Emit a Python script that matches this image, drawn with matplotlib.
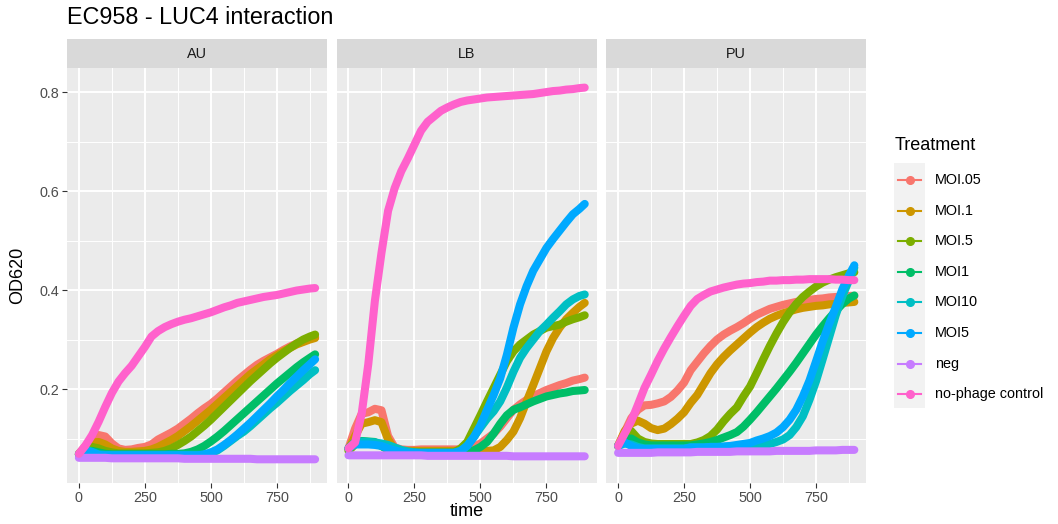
import matplotlib
matplotlib.use('Agg')
import matplotlib.pyplot as plt
from matplotlib.lines import Line2D
from matplotlib.patches import Rectangle

plt.rcParams['font.family'] = ['Liberation Sans', 'DejaVu Sans']

# ---------------- data ----------------
time = [0, 25, 50, 75, 100, 125, 150, 175, 200, 225, 250, 275, 300, 325, 350, 375,
        400, 425, 450, 475, 500, 525, 550, 575, 600, 625, 650, 675, 700, 725, 750,
        775, 800, 825, 850, 875, 895]

treatments = ['MOI.05', 'MOI.1', 'MOI.5', 'MOI1', 'MOI10', 'MOI5', 'neg', 'no-phage control']
facets = ['AU', 'LB', 'PU']

# AU
au_moi05 = [0.069, 0.085, 0.100, 0.107, 0.104, 0.090, 0.080, 0.077, 0.078, 0.081, 0.083, 0.088, 0.098,
            0.105, 0.112, 0.120, 0.130, 0.140, 0.151, 0.161, 0.170, 0.181, 0.193, 0.205, 0.217, 0.228,
            0.239, 0.249, 0.257, 0.264, 0.271, 0.279, 0.286, 0.292, 0.297, 0.302, 0.305]
au_moi_1 = [0.069, 0.082, 0.092, 0.093, 0.088, 0.080, 0.075, 0.073, 0.073, 0.074, 0.075, 0.078, 0.083,
            0.090, 0.097, 0.105, 0.115, 0.125, 0.136, 0.147, 0.158, 0.170, 0.182, 0.194, 0.206, 0.218,
            0.230, 0.240, 0.250, 0.260, 0.268, 0.276, 0.283, 0.290, 0.295, 0.300, 0.303]
au_moi_5 = [0.068, 0.078, 0.083, 0.080, 0.075, 0.072, 0.070, 0.070, 0.070, 0.070, 0.070, 0.071, 0.072,
            0.075, 0.080, 0.087, 0.095, 0.104, 0.115, 0.126, 0.138, 0.151, 0.164, 0.177, 0.190, 0.203,
            0.216, 0.228, 0.240, 0.252, 0.263, 0.273, 0.283, 0.292, 0.300, 0.306, 0.310]
au_moi1 = [0.068, 0.074, 0.075, 0.072, 0.069, 0.068, 0.068, 0.068, 0.068, 0.068, 0.068, 0.068, 0.068,
           0.068, 0.069, 0.069, 0.070, 0.073, 0.078, 0.085, 0.094, 0.104, 0.115, 0.127, 0.139, 0.151,
           0.163, 0.175, 0.187, 0.199, 0.211, 0.222, 0.233, 0.244, 0.254, 0.263, 0.270]
au_moi10 = [0.068, 0.078, 0.073, 0.068, 0.067, 0.067, 0.067, 0.067, 0.067, 0.067, 0.067, 0.067, 0.067,
            0.067, 0.067, 0.067, 0.067, 0.067, 0.067, 0.067, 0.070, 0.076, 0.085, 0.095, 0.105, 0.114,
            0.125, 0.137, 0.149, 0.161, 0.172, 0.184, 0.196, 0.207, 0.218, 0.230, 0.238]
au_moi5 = [0.068, 0.075, 0.072, 0.067, 0.066, 0.066, 0.066, 0.066, 0.066, 0.066, 0.066, 0.066, 0.066,
           0.066, 0.066, 0.066, 0.066, 0.066, 0.066, 0.068, 0.072, 0.078, 0.087, 0.097, 0.108, 0.120,
           0.132, 0.145, 0.158, 0.171, 0.185, 0.198, 0.212, 0.225, 0.238, 0.250, 0.260]
au_neg = [0.061, 0.061, 0.061, 0.061, 0.061, 0.060, 0.060, 0.060, 0.060, 0.060, 0.060, 0.060, 0.060,
          0.060, 0.060, 0.060, 0.059, 0.059, 0.059, 0.059, 0.059, 0.059, 0.059, 0.059, 0.059, 0.059,
          0.059, 0.058, 0.058, 0.058, 0.058, 0.058, 0.058, 0.058, 0.058, 0.058, 0.058]
au_ctrl = [0.069, 0.086, 0.107, 0.134, 0.164, 0.192, 0.215, 0.232, 0.247, 0.266, 0.285, 0.306, 0.317,
           0.325, 0.331, 0.336, 0.340, 0.343, 0.347, 0.351, 0.355, 0.360, 0.365, 0.369, 0.374, 0.377,
           0.380, 0.383, 0.386, 0.388, 0.390, 0.393, 0.396, 0.399, 0.401, 0.403, 0.404]

# LB
lb_moi05 = [0.080, 0.120, 0.150, 0.153, 0.160, 0.157, 0.105, 0.082, 0.078, 0.077, 0.077, 0.078, 0.078,
            0.078, 0.078, 0.078, 0.078, 0.078, 0.079, 0.083, 0.090, 0.100, 0.110, 0.124, 0.141, 0.158,
            0.169, 0.178, 0.185, 0.192, 0.198, 0.203, 0.208, 0.212, 0.217, 0.220, 0.223]
lb_moi_1 = [0.078, 0.105, 0.130, 0.133, 0.137, 0.133, 0.098, 0.078, 0.075, 0.075, 0.075, 0.075, 0.075,
            0.075, 0.075, 0.075, 0.075, 0.075, 0.075, 0.075, 0.075, 0.075, 0.076, 0.083, 0.097, 0.114,
            0.141, 0.175, 0.208, 0.242, 0.276, 0.303, 0.324, 0.341, 0.354, 0.366, 0.374]
lb_moi_5 = [0.075, 0.088, 0.092, 0.090, 0.090, 0.085, 0.078, 0.075, 0.072, 0.072, 0.072, 0.072, 0.072,
            0.072, 0.072, 0.072, 0.072, 0.080, 0.093, 0.120, 0.147, 0.175, 0.202, 0.229, 0.256, 0.276,
            0.290, 0.300, 0.310, 0.317, 0.324, 0.327, 0.330, 0.336, 0.341, 0.345, 0.349]
lb_moi1 = [0.080, 0.093, 0.095, 0.094, 0.093, 0.085, 0.077, 0.073, 0.071, 0.071, 0.071, 0.071, 0.071,
           0.071, 0.071, 0.071, 0.071, 0.071, 0.071, 0.076, 0.083, 0.093, 0.110, 0.130, 0.147, 0.158,
           0.163, 0.169, 0.175, 0.180, 0.185, 0.188, 0.191, 0.193, 0.196, 0.197, 0.198]
lb_moi10 = [0.080, 0.093, 0.094, 0.093, 0.092, 0.090, 0.087, 0.082, 0.077, 0.074, 0.072, 0.071, 0.071,
            0.071, 0.071, 0.071, 0.071, 0.075, 0.086, 0.103, 0.122, 0.140, 0.155, 0.175, 0.203, 0.235,
            0.263, 0.283, 0.300, 0.317, 0.330, 0.344, 0.357, 0.371, 0.381, 0.388, 0.391]
lb_moi5 = [0.080, 0.088, 0.088, 0.088, 0.087, 0.085, 0.080, 0.076, 0.073, 0.071, 0.071, 0.071, 0.071,
           0.071, 0.071, 0.071, 0.071, 0.075, 0.085, 0.103, 0.127, 0.158, 0.188, 0.222, 0.269, 0.324,
           0.371, 0.408, 0.439, 0.462, 0.485, 0.503, 0.520, 0.537, 0.553, 0.564, 0.574]
lb_neg = [0.066, 0.066, 0.066, 0.066, 0.066, 0.066, 0.066, 0.066, 0.066, 0.066, 0.066, 0.066, 0.065,
          0.065, 0.065, 0.065, 0.065, 0.065, 0.065, 0.065, 0.065, 0.065, 0.065, 0.065, 0.065, 0.064,
          0.064, 0.064, 0.064, 0.064, 0.064, 0.064, 0.064, 0.064, 0.064, 0.064, 0.064]
lb_ctrl = [0.080, 0.092, 0.150, 0.250, 0.378, 0.475, 0.560, 0.606, 0.640, 0.666, 0.694, 0.722, 0.740,
           0.751, 0.762, 0.769, 0.775, 0.780, 0.783, 0.785, 0.787, 0.789, 0.790, 0.791, 0.792, 0.793,
           0.794, 0.795, 0.796, 0.798, 0.800, 0.802, 0.803, 0.805, 0.806, 0.808, 0.809]

# PU
pu_moi05 = [0.085, 0.113, 0.141, 0.158, 0.167, 0.168, 0.171, 0.175, 0.184, 0.197, 0.213, 0.238, 0.255,
            0.272, 0.287, 0.300, 0.310, 0.318, 0.325, 0.333, 0.342, 0.350, 0.356, 0.362, 0.366, 0.370,
            0.373, 0.376, 0.378, 0.380, 0.382, 0.383, 0.385, 0.386, 0.387, 0.388, 0.388]
pu_moi_1 = [0.085, 0.115, 0.130, 0.136, 0.130, 0.121, 0.117, 0.120, 0.129, 0.140, 0.153, 0.172, 0.188,
            0.210, 0.232, 0.250, 0.265, 0.278, 0.290, 0.302, 0.314, 0.325, 0.334, 0.342, 0.348, 0.353,
            0.357, 0.361, 0.364, 0.366, 0.368, 0.369, 0.371, 0.372, 0.374, 0.375, 0.376]
pu_moi_5 = [0.085, 0.105, 0.115, 0.100, 0.093, 0.090, 0.089, 0.089, 0.089, 0.089, 0.089, 0.089, 0.092,
            0.097, 0.105, 0.118, 0.135, 0.150, 0.163, 0.185, 0.205, 0.232, 0.260, 0.287, 0.312, 0.335,
            0.355, 0.372, 0.386, 0.397, 0.407, 0.415, 0.421, 0.426, 0.430, 0.434, 0.436]
pu_moi1 = [0.085, 0.098, 0.100, 0.092, 0.088, 0.086, 0.086, 0.086, 0.086, 0.086, 0.086, 0.086, 0.088,
           0.090, 0.093, 0.097, 0.102, 0.107, 0.113, 0.124, 0.138, 0.153, 0.169, 0.185, 0.201, 0.218,
           0.235, 0.253, 0.272, 0.291, 0.310, 0.327, 0.343, 0.358, 0.372, 0.383, 0.389]
pu_moi10 = [0.085, 0.090, 0.088, 0.083, 0.080, 0.080, 0.080, 0.080, 0.080, 0.080, 0.080, 0.082, 0.082,
            0.082, 0.083, 0.083, 0.083, 0.084, 0.084, 0.085, 0.085, 0.086, 0.087, 0.089, 0.093, 0.098,
            0.107, 0.123, 0.145, 0.178, 0.216, 0.260, 0.305, 0.350, 0.388, 0.420, 0.445]
pu_moi5 = [0.085, 0.092, 0.085, 0.080, 0.079, 0.079, 0.079, 0.079, 0.079, 0.079, 0.079, 0.082, 0.082,
           0.082, 0.083, 0.083, 0.084, 0.085, 0.087, 0.089, 0.091, 0.096, 0.100, 0.105, 0.112, 0.123,
           0.138, 0.158, 0.185, 0.217, 0.256, 0.296, 0.332, 0.366, 0.402, 0.430, 0.450]
pu_neg = [0.071, 0.071, 0.071, 0.071, 0.071, 0.071, 0.072, 0.072, 0.072, 0.072, 0.072, 0.072, 0.073,
          0.073, 0.073, 0.073, 0.073, 0.073, 0.074, 0.074, 0.074, 0.074, 0.074, 0.074, 0.075, 0.075,
          0.075, 0.075, 0.075, 0.075, 0.076, 0.076, 0.076, 0.076, 0.077, 0.077, 0.077]
pu_ctrl = [0.085, 0.110, 0.135, 0.168, 0.202, 0.229, 0.257, 0.282, 0.305, 0.327, 0.348, 0.368, 0.382,
           0.390, 0.397, 0.401, 0.405, 0.408, 0.411, 0.413, 0.414, 0.416, 0.417, 0.419, 0.419, 0.420,
           0.420, 0.421, 0.421, 0.422, 0.422, 0.422, 0.422, 0.421, 0.421, 0.420, 0.420]

panel_series = {
    'AU': [au_moi05, au_moi_1, au_moi_5, au_moi1, au_moi10, au_moi5, au_neg, au_ctrl],
    'LB': [lb_moi05, lb_moi_1, lb_moi_5, lb_moi1, lb_moi10, lb_moi5, lb_neg, lb_ctrl],
    'PU': [pu_moi05, pu_moi_1, pu_moi_5, pu_moi1, pu_moi10, pu_moi5, pu_neg, pu_ctrl],
}

colors = ['#F8766D', '#CD9600', '#7CAE00', '#00BE67', '#00BFC4', '#00A9FF', '#C77CFF', '#FF61CC']

# ---------------- layout ----------------
W, H = 1058, 524
fig = plt.figure(figsize=(W / 100, H / 100), dpi=100)
fig.patch.set_facecolor('white')


def fx(px):
    return px / W


def fy(py):
    return 1 - py / H


panel_left = [67, 336.6, 606.2]
pw = 260
ptop, pbot = 68.3, 483
strip_top = 39.3

for i, facet in enumerate(facets):
    l = panel_left[i]
    ax = fig.add_axes([fx(l), fy(pbot), pw / W, (pbot - ptop) / H])
    ax.set_facecolor('#EBEBEB')
    for sp in ax.spines.values():
        sp.set_visible(False)
    ax.set_xlim(-45, 940)
    ax.set_ylim(0.0101, 0.848)
    ax.set_xticks([0, 250, 500, 750])
    ax.set_xticks([125, 375, 625, 875], minor=True)
    ax.set_yticks([0.2, 0.4, 0.6, 0.8])
    ax.set_yticklabels(['0.2', '0.4', '0.6', '0.8'])
    ax.set_yticks([0.1, 0.3, 0.5, 0.7], minor=True)
    ax.grid(which='major', color='white', lw=1.4)
    ax.grid(which='minor', color='white', lw=0.7)
    ax.set_axisbelow(True)
    ax.tick_params(which='minor', length=0)
    ax.tick_params(which='major', length=3.3, width=0.8, color='#333333',
                   labelcolor='#4D4D4D', labelsize=10.4, pad=2.5)
    if i > 0:
        ax.tick_params(axis='y', left=False, labelleft=False)

    for vals, c in zip(panel_series[facet], colors):
        ax.plot(time, vals, color=c, lw=5.8, solid_capstyle='round',
                solid_joinstyle='round', zorder=3)

    sax = fig.add_axes([fx(l), fy(ptop), pw / W, (ptop - strip_top) / H])
    sax.set_facecolor('#D9D9D9')
    sax.set_xticks([])
    sax.set_yticks([])
    for sp in sax.spines.values():
        sp.set_visible(False)
    sax.text(0.5, 0.5, facet, transform=sax.transAxes, ha='center', va='center',
             fontsize=10.4, color='#1A1A1A')

# title and axis titles
fig.text(fx(67), fy(18), 'EC958 - LUC4 interaction', ha='left', va='center',
         fontsize=16.8, color='black')
fig.text(fx(18), fy((ptop + pbot) / 2), 'OD620', rotation=90, ha='center', va='center',
         fontsize=13, color='black')
fig.text(fx((67 + 866) / 2), fy(512), 'time', ha='center', va='center',
         fontsize=13, color='black')

# legend
fig.text(fx(895), fy(146), 'Treatment', ha='left', va='center', fontsize=13, color='black')
fig.patches.append(Rectangle((fx(894), fy(408)), 31 / W, 245 / H, transform=fig.transFigure,
                             facecolor='#F2F2F2', edgecolor='none'))
for k, (lab, c) in enumerate(zip(treatments, colors)):
    yc = 180 + k * 30.6
    fig.lines.append(Line2D([fx(898), fx(921)], [fy(yc), fy(yc)], transform=fig.transFigure,
                            color=c, lw=1.5))
    fig.lines.append(Line2D([fx(909.5)], [fy(yc)], transform=fig.transFigure,
                            color=c, marker='o', markersize=5.5, lw=0))
    fig.text(fx(935), fy(yc), lab, ha='left', va='center', fontsize=10.4, color='black')

fig.savefig('out.png', dpi=100, facecolor='white')
